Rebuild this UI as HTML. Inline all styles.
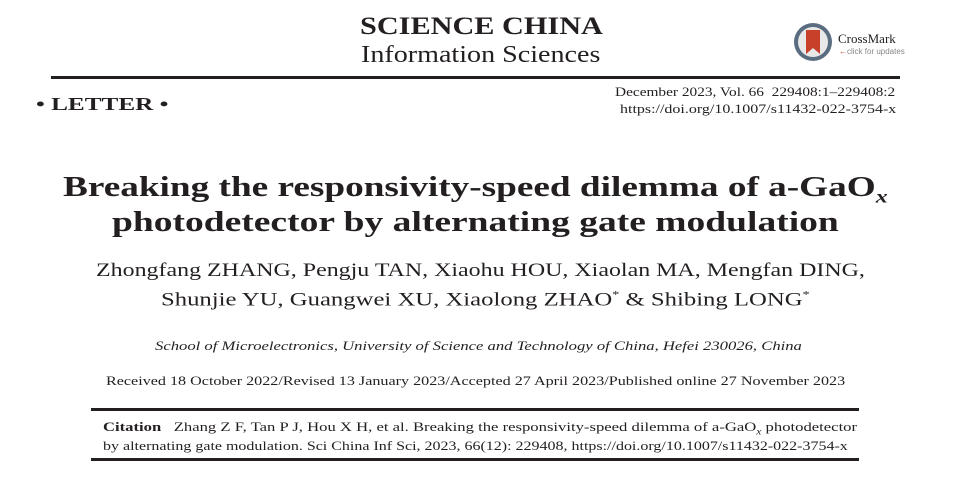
<!DOCTYPE html>
<html><head><meta charset="utf-8"><style>
body{margin:0;width:962px;height:485px;background:#fff;position:relative;overflow:hidden;font-family:"Liberation Serif",serif;color:#231f20}
.a{position:absolute;white-space:nowrap;line-height:1;transform-origin:0 0}
.rule{position:absolute;background:#231f20}
</style></head><body>
<div class="a" style="left:360px;top:14px;font-size:25px;font-weight:bold;transform:scaleX(1.21)">SCIENCE CHINA</div>
<div class="a" style="left:361px;top:43px;font-size:24px;transform:scaleX(1.17)">Information Sciences</div>
<svg style="position:absolute;left:793px;top:22px" width="40" height="40"><circle cx="20" cy="20" r="19" fill="#5a6d80"/><circle cx="20" cy="20" r="15" fill="#e8e8e8"/><path d="M13 8h14v24l-7-6-7 6z" fill="#c8402a"/></svg>
<div class="a" style="left:838px;top:32px;font-size:13px">CrossMark</div>
<div class="a" style="left:839px;top:48px;font-size:8px;color:#888;font-family:'Liberation Sans',sans-serif"><span style="color:#c8402a">&#8592;</span>click for updates</div>
<div class="rule" style="left:51px;top:76px;width:849px;height:3px"></div>
<div class="a" style="left:36px;top:95px;font-size:18px;font-weight:bold;transform:scaleX(1.4)">&bull; LETTER &bull;</div>
<div class="a" style="left:615px;top:85px;font-size:13px;transform:scaleX(1.18)">December 2023, Vol. 66&nbsp;&nbsp;229408:1–229408:2</div>
<div class="a" style="left:620px;top:102px;font-size:13px;transform:scaleX(1.23)">https://doi.org/10.1007/s11432-022-3754-x</div>
<div class="a" style="left:63px;top:174px;font-size:28px;font-weight:bold;transform:scaleX(1.33)">Breaking the responsivity-speed dilemma of a-GaO<sub style="font-style:italic;font-size:18px">x</sub></div>
<div class="a" style="left:112px;top:209px;font-size:28px;font-weight:bold;transform:scaleX(1.34)">photodetector by alternating gate modulation</div>
<div class="a" style="left:96px;top:261px;font-size:19px;transform:scaleX(1.26)">Zhongfang ZHANG, Pengju TAN, Xiaohu HOU, Xiaolan MA, Mengfan DING,</div>
<div class="a" style="left:161px;top:290px;font-size:19px;transform:scaleX(1.3)">Shunjie YU, Guangwei XU, Xiaolong ZHAO<sup style="font-size:11px">*</sup> &amp; Shibing LONG<sup style="font-size:11px">*</sup></div>
<div class="a" style="left:155px;top:340px;font-size:12.5px;font-style:italic;transform:scaleX(1.33)">School of Microelectronics, University of Science and Technology of China, Hefei 230026, China</div>
<div class="a" style="left:106px;top:374px;font-size:13px;transform:scaleX(1.24)">Received 18 October 2022/Revised 13 January 2023/Accepted 27 April 2023/Published online 27 November 2023</div>
<div class="rule" style="left:91px;top:408px;width:768px;height:3px"></div>
<div class="a" style="left:103px;top:420px;font-size:13px;transform:scaleX(1.28)"><b>Citation</b>&nbsp;&nbsp;&nbsp;Zhang Z F, Tan P J, Hou X H, et al. Breaking the responsivity-speed dilemma of a-GaO<sub style="font-style:italic;font-size:9px">x</sub> photodetector</div>
<div class="a" style="left:103px;top:439px;font-size:13px;transform:scaleX(1.23)">by alternating gate modulation. Sci China Inf Sci, 2023, 66(12): 229408, https://doi.org/10.1007/s11432-022-3754-x</div>
<div class="rule" style="left:91px;top:458px;width:768px;height:3px"></div>
</body></html>
